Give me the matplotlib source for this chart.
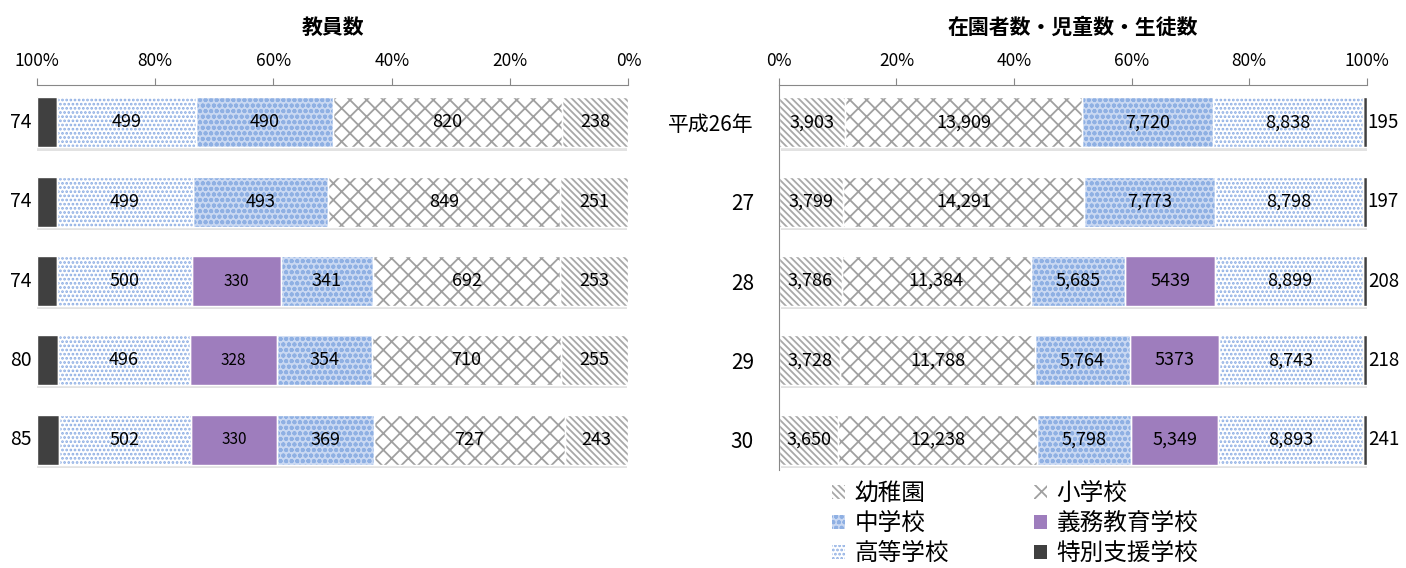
import matplotlib.pyplot as plt
from matplotlib.patches import Patch

plt.rcParams['font.family'] = ['Noto Sans CJK JP', 'DejaVu Sans']
plt.rcParams['hatch.linewidth'] = 1.3

# -----------------------------
# Data
# -----------------------------
schools = ['幼稚園', '小学校', '中学校', '義務教育学校', '高等学校', '特別支援学校']
years = ['平成26年', '27', '28', '29', '30']

# 教員数 (per year, order as in schools)
teachers = [
    [238, 820, 490, 0, 499, 74],
    [251, 849, 493, 0, 499, 74],
    [253, 692, 341, 330, 500, 74],
    [255, 710, 354, 328, 496, 80],
    [243, 727, 369, 330, 502, 85],
]
# 在園者数・児童数・生徒数
students = [
    [3903, 13909, 7720, 0, 8838, 195],
    [3799, 14291, 7773, 0, 8798, 197],
    [3786, 11384, 5685, 5439, 8899, 208],
    [3728, 11788, 5764, 5373, 8743, 218],
    [3650, 12238, 5798, 5349, 8893, 241],
]
# label text as printed in the original
student_labels = [
    ['3,903', '13,909', '7,720', '', '8,838', '195'],
    ['3,799', '14,291', '7,773', '', '8,798', '197'],
    ['3,786', '11,384', '5,685', '5439', '8,899', '208'],
    ['3,728', '11,788', '5,764', '5373', '8,743', '218'],
    ['3,650', '12,238', '5,798', '5,349', '8,893', '241'],
]
pct_ticks = [0, 20, 40, 60, 80, 100]

# -----------------------------
# Styles
# -----------------------------
styles = [
    dict(facecolor='white', edgecolor='#a8a8a8', hatch='\\\\\\\\\\'),
    dict(facecolor='white', edgecolor='#a0a0a0', hatch='xx'),
    dict(facecolor='#c9d8f2', edgecolor='#8fb0e3', hatch='ooo'),
    dict(facecolor='#9e7dbd', edgecolor='#9e7dbd', hatch=None),
    dict(facecolor='white', edgecolor='#8cade3', hatch='....'),
    dict(facecolor='#404040', edgecolor='#404040', hatch=None),
]

fig = plt.figure(figsize=(14.06, 5.68), dpi=100)
ax1 = fig.add_axes([0.026, 0.173, 0.421, 0.677])
ax2 = fig.add_axes([0.554, 0.173, 0.418, 0.677])

bar_h = 0.63


def draw(ax, data, labels, small_purple):
    for i, row in enumerate(data):
        total = sum(row)
        left = 0
        for j, v in enumerate(row):
            w = v / total * 100
            if v > 0:
                st = styles[j]
                ax.barh(i, w, left=left, height=bar_h, color=st['facecolor'],
                        edgecolor=st['edgecolor'], hatch=st['hatch'], linewidth=0, zorder=2)
                # thin white separator
                ax.barh(i, w, left=left, height=bar_h, color='none',
                        edgecolor='white', linewidth=1, zorder=3)
                if j < 5:
                    fs = 11 if (small_purple and j == 3) else 13
                    ax.text(left + w / 2, i, labels[i][j], ha='center', va='center',
                            fontsize=fs, zorder=4)
            left += w
        # soft shadow under the whole bar
        ax.barh(i + 0.04, 100, left=0.3, height=bar_h, color='#e2e2e2', linewidth=0, zorder=1)


# -----------------------------
# Left chart: 教員数
# -----------------------------
teacher_labels = [[str(v) for v in row] for row in teachers]
draw(ax1, teachers, teacher_labels, True)
ax1.set_xlim(100, 0)
for i, row in enumerate(teachers):
    ax1.text(100.8, i, str(row[5]), ha='right', va='center', fontsize=14)

# -----------------------------
# Right chart: 在園者数・児童数・生徒数
# -----------------------------
draw(ax2, students, student_labels, False)
ax2.set_xlim(0, 100)
for i, row in enumerate(students):
    ax2.text(100.2, i, student_labels[i][5], ha='left', va='center', fontsize=13.5)
ax2.set_yticks(range(len(years)))
ax2.set_yticklabels(years, fontsize=15)
ax2.tick_params(axis='y', length=0, pad=18)

for ax in (ax1, ax2):
    ax.set_ylim(4.38, -0.47)
    ax.xaxis.tick_top()
    ax.set_xticks(pct_ticks)
    ax.set_xticklabels([f'{t}%' for t in pct_ticks], fontsize=12.5)
    ax.tick_params(axis='x', length=5, color='#888888', pad=6)
    for s in ('right', 'bottom'):
        ax.spines[s].set_visible(False)
    ax.spines['top'].set_color('#888888')
    for s in ax.spines.values():
        s.set_zorder(5)

ax1.spines['left'].set_visible(False)
ax1.set_yticks([])
ax2.spines['left'].set_color('#888888')

fig.text(0.2365, 0.952, '教員数', ha='center', va='center', fontsize=15, fontweight='bold')
fig.text(0.763, 0.952, '在園者数・児童数・生徒数', ha='center', va='center', fontsize=15, fontweight='bold')

# -----------------------------
# Legend
# -----------------------------
order = [0, 2, 4, 1, 3, 5]
handles = [Patch(facecolor=styles[k]['facecolor'], edgecolor=styles[k]['edgecolor'],
                 hatch=styles[k]['hatch'], linewidth=0, label=schools[k]) for k in order]
fig.legend(handles=handles, loc='upper left', bbox_to_anchor=(0.585, 0.168), ncol=2,
           frameon=False, fontsize=17, handlelength=0.55, handleheight=0.55,
           handletextpad=0.4, columnspacing=3.6, labelspacing=0.3, borderaxespad=0)

plt.savefig('out.png', dpi=100)
